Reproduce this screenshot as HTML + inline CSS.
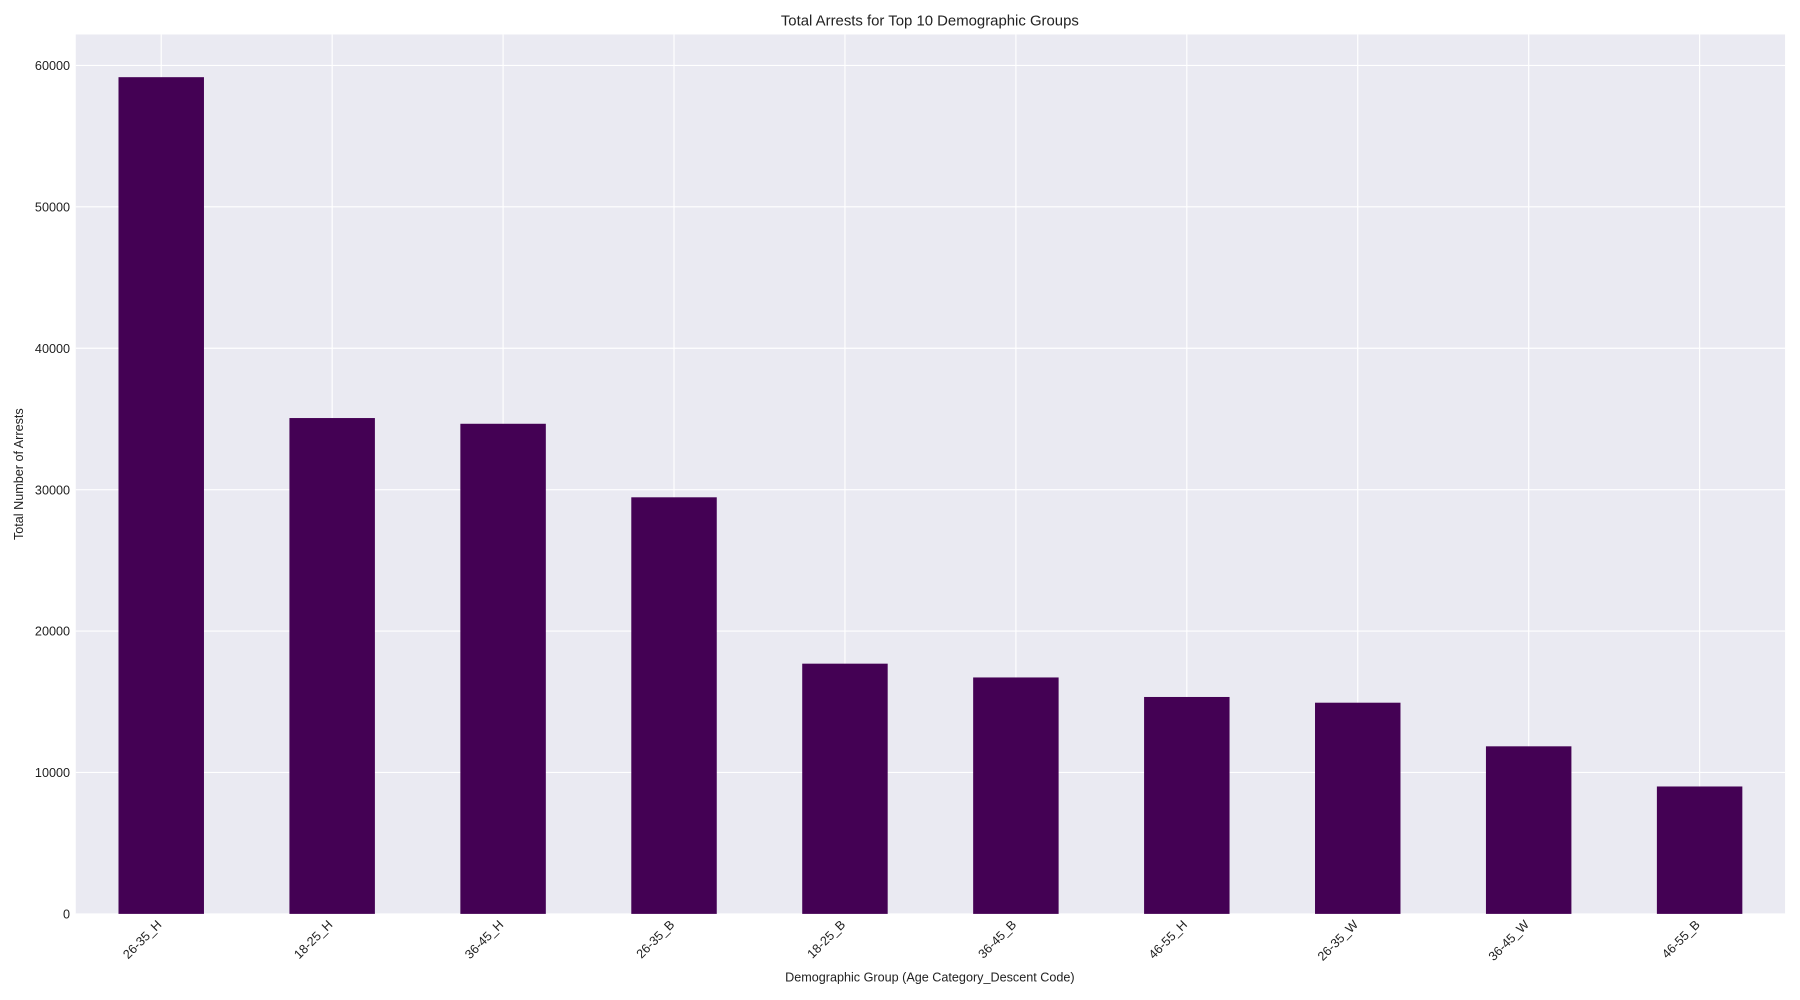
<!DOCTYPE html>
<html><head><meta charset="utf-8"><style>
html,body{margin:0;padding:0;background:#fff;}
svg{display:block;font-family:"Liberation Sans",Arial,sans-serif;}
</style></head><body>
<svg id="chart" width="1800" height="1000" viewBox="0 0 1568 871" preserveAspectRatio="none" xmlns="http://www.w3.org/2000/svg">
<rect x="66" y="30" width="1489" height="766" fill="#eaeaf2"/>
<g id="grid"></g><g id="bars"></g><g id="xt"></g><g id="yt"></g>
<text x="810" y="22" text-anchor="middle" font-size="13" fill="#222">Total Arrests for Top 10 Demographic Groups</text>
<text x="810" y="855" text-anchor="middle" font-size="11" fill="#222">Demographic Group (Age Category_Descent Code)</text>
<text transform="translate(20,413) rotate(-90)" text-anchor="middle" font-size="11" fill="#222">Total Number of Arrests</text>
</svg>
<script>
const categories=["26-35_H","18-25_H","36-45_H","26-35_B","18-25_B","36-45_B","46-55_H","26-35_W","36-45_W","46-55_B"];
const values=[59170,35065,34660,29460,17695,16720,15340,14935,11850,9010];
const yTicks=[0,10000,20000,30000,40000,50000,60000];
const NS="http://www.w3.org/2000/svg";
const L=66,R=1555,T=30,B=796;
const step=(R-L)/categories.length;
function xc(i){return L+step*(i+0.5);}
function y(v){return B-(v/60000)*(B-57);}
function mk(t,a,p){const e=document.createElementNS(NS,t);for(const k in a)e.setAttribute(k,a[k]);p.appendChild(e);return e;}
const grid=document.getElementById('grid'),bars=document.getElementById('bars'),xt=document.getElementById('xt'),yt=document.getElementById('yt');
yTicks.forEach(v=>{
  const l=mk('line',{x1:L,x2:R,y1:y(v),y2:y(v),stroke:'#fff','stroke-width':1},grid);
  
  
  const t=mk('text',{x:L-5,y:y(v)+4,'text-anchor':'end','font-size':11,fill:'#222'},yt);
  t.textContent=v;
  
  
});
categories.forEach((c,i)=>{
  const g=mk('line',{x1:xc(i),x2:xc(i),y1:T,y2:B,stroke:'#fff','stroke-width':1},grid);
  
  
  const w=step*0.5;
  const r=mk('rect',{x:xc(i)-w/2,y:y(values[i]),width:w,height:B-y(values[i]),fill:'#440154'},bars);
  
  
  const t=mk('text',{transform:`translate(${xc(i)+1},${B+10}) rotate(-45)`,'text-anchor':'end','font-size':11,fill:'#222'},xt);
  t.textContent=c;
  
  
});
</script>
</body></html>
